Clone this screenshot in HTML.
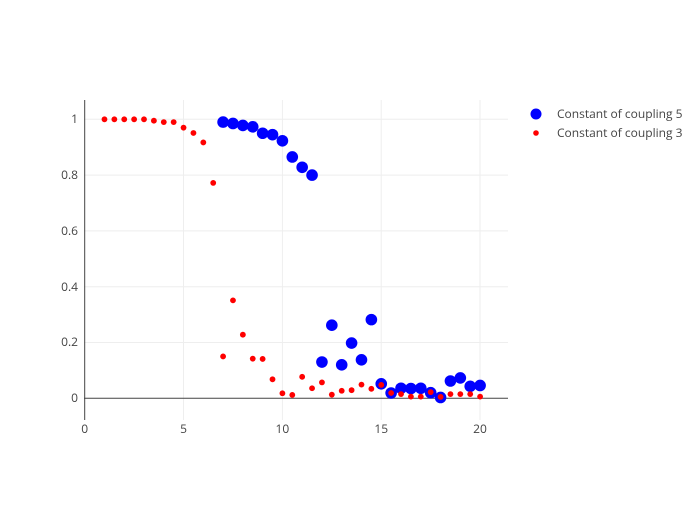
<!DOCTYPE html>
<html><head><meta charset="utf-8"><style>
body{margin:0;background:#fff}
svg{font-family:"Open Sans","Liberation Sans",sans-serif}
</style></head><body>
<svg id="s" width="700" height="500" xmlns="http://www.w3.org/2000/svg">
<rect width="700" height="500" fill="#fff"/>
<g stroke="#eee" stroke-width="1">
<line x1="183.5" y1="100" x2="183.5" y2="420"/>
<line x1="282.4" y1="100" x2="282.4" y2="420"/>
<line x1="381.2" y1="100" x2="381.2" y2="420"/>
<line x1="480" y1="100" x2="480" y2="420"/>
<line x1="84" y1="119.3" x2="508" y2="119.3"/>
<line x1="84" y1="175.1" x2="508" y2="175.1"/>
<line x1="84" y1="230.9" x2="508" y2="230.9"/>
<line x1="84" y1="286.7" x2="508" y2="286.7"/>
<line x1="84" y1="342.5" x2="508" y2="342.5"/>
</g>
<line x1="84" y1="398.3" x2="508" y2="398.3" stroke="#444" stroke-width="1"/>
<line x1="84.7" y1="100" x2="84.7" y2="420" stroke="#444" stroke-width="1"/>
<g fill="#444" font-size="12" text-anchor="end">
<text x="78" y="123">1</text>
<text x="78" y="179">0.8</text>
<text x="78" y="235">0.6</text>
<text x="78" y="291">0.4</text>
<text x="78" y="346">0.2</text>
<text x="78" y="402">0</text>
</g>
<g fill="#444" font-size="12" text-anchor="middle">
<text x="84.7" y="433">0</text>
<text x="183.5" y="433">5</text>
<text x="282.4" y="433">10</text>
<text x="381.2" y="433">15</text>
<text x="480" y="433">20</text>
</g>
<g id="blue" fill="#0000ff"></g>
<g id="red" fill="#ff0000"></g>
<circle cx="536" cy="114" r="5.5" fill="#0000ff"/>
<circle cx="536" cy="133" r="2.8" fill="#ff0000"/>
<g fill="#444" font-size="12">
<text x="557" y="118">Constant of coupling 5</text>
<text x="557" y="137">Constant of coupling 3</text>
</g>
</svg>
<script>
var red=[1,1,1,1,1,.995,.99,.99,.97,.951,.917,.772,.15,.351,.228,.142,.141,.068,.018,.012,.077,.036,.057,.013,.027,.029,.049,.034,.048,.019,.015,.006,.006,.022,.005,.015,.015,.015,.006];
var blue=[.99,.985,.978,.973,.95,.945,.923,.865,.828,.8,.13,.262,.12,.198,.138,.282,.052,.019,.036,.035,.036,.02,.003,.062,.073,.043,.046];
function X(x){return 84.7+19.77*x}function Y(v){return 398.3-279*v}
var ns="http://www.w3.org/2000/svg";
function add(g,x,v,r){var c=document.createElementNS(ns,"circle");c.setAttribute("cx",X(x));c.setAttribute("cy",Y(v));c.setAttribute("r",r);document.getElementById(g).appendChild(c);}
blue.forEach(function(v,i){add("blue",7+i*.5,v,5.8)});
red.forEach(function(v,i){add("red",1+i*.5,v,2.9)});
</script>
</body></html>
